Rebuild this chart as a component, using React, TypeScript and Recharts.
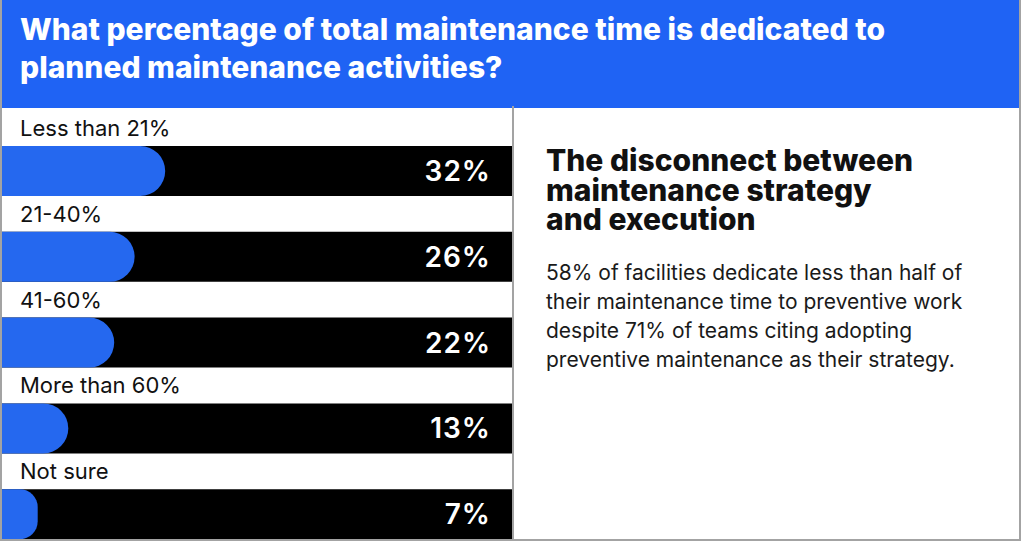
import React from 'react';
import { BarChart, Bar, XAxis, YAxis, LabelList } from 'recharts';

const categories = ['Less than 21%', '21-40%', '41-60%', 'More than 60%', 'Not sure'];
const shares = [32, 26, 22, 13, 7];
const valueDomain = [0, 100];

const titleLines = [
  'What percentage of total maintenance time is dedicated to',
  'planned maintenance activities?',
];
const headingLines = ['The disconnect between', 'maintenance strategy', 'and execution'];
const bodyLines = [
  '58% of facilities dedicate less than half of',
  'their maintenance time to preventive work',
  'despite 71% of teams citing adopting',
  'preventive maintenance as their strategy.',
];

const BLUE_HEADER = '#1f63f4';
const BLUE_BAR = '#2568ef';
const BORDER = '#a3a3a3';
const FONT = 'Inter, "Noto Sans", sans-serif';

const CHART_W = 510;
const CHART_H = 452;

const data = categories.map((name, i) => ({ name, value: shares[i] }));

// LabelList content gets the bar box either directly or inside viewBox
const box = (p: any) => {
  const vb = p.viewBox ?? p;
  return { x: Number(vb.x), y: Number(vb.y), height: Number(vb.height) };
};

const CategoryLabel = (p: any) => {
  const { y } = box(p);
  return (
    <text x={18} y={y - 10} fill="#111" fontSize={22} fontFamily={FONT}>
      {p.value}
    </text>
  );
};

const ValueLabel = (p: any) => {
  const { y, height } = box(p);
  return (
    <text
      x={CHART_W - 21}
      y={y + height / 2}
      textAnchor="end"
      dominantBaseline="central"
      fill="#fff"
      fontSize={28}
      fontWeight={600}
      letterSpacing={1}
      fontFamily={FONT}
    >
      {`${p.value}%`}
    </text>
  );
};

const App: React.FC = () => {
  return (
    <div
      style={{
        position: 'fixed',
        left: 0,
        top: 0,
        width: 1024,
        height: 545,
        background: '#fff',
        overflow: 'hidden',
        fontFamily: FONT,
      }}
    >
      <div
        style={{
          position: 'absolute',
          left: 0,
          top: 0,
          width: 1021,
          height: 541,
          boxSizing: 'border-box',
          border: `2px solid ${BORDER}`,
          borderTop: 'none',
          overflow: 'hidden',
        }}
      >
        {/* header band */}
        <div
          style={{
            position: 'absolute',
            left: -2,
            top: 0,
            width: 1021,
            height: 108,
            background: BLUE_HEADER,
          }}
        >
          <div
            style={{
              position: 'absolute',
              left: 20,
              top: 10,
              color: '#fff',
              fontSize: 30,
              fontWeight: 800,
              lineHeight: '38px',
              whiteSpace: 'nowrap',
            }}
          >
            {titleLines.map((t) => (
              <div key={t}>{t}</div>
            ))}
          </div>
        </div>

        {/* bars */}
        <div style={{ position: 'absolute', left: 0, top: 106 }}>
          <BarChart
            width={CHART_W}
            height={CHART_H}
            data={data}
            layout="vertical"
            margin={{ top: 22, right: 0, bottom: 1, left: 0 }}
            barCategoryGap={18}
          >
            <XAxis type="number" domain={valueDomain} hide />
            <YAxis type="category" dataKey="name" hide />
            <Bar
              dataKey="value"
              fill={BLUE_BAR}
              barSize={50}
              radius={[0, 25, 25, 0]}
              background={{ fill: '#000', radius: 0 }}
              isAnimationActive={false}
            >
              <LabelList dataKey="name" content={CategoryLabel} />
              <LabelList dataKey="value" content={ValueLabel} />
            </Bar>
          </BarChart>
        </div>

        {/* divider and side note */}
        <div
          style={{
            position: 'absolute',
            left: 510,
            top: 106,
            width: 2,
            height: 440,
            background: BORDER,
          }}
        />
        <div
          style={{
            position: 'absolute',
            left: 544,
            top: 146,
            color: '#111',
            fontSize: 30,
            fontWeight: 800,
            lineHeight: '29.5px',
            whiteSpace: 'nowrap',
          }}
        >
          {headingLines.map((t) => (
            <div key={t}>{t}</div>
          ))}
        </div>
        <div
          style={{
            position: 'absolute',
            left: 544,
            top: 258,
            color: '#1a1a1a',
            fontSize: 21,
            lineHeight: '29px',
            whiteSpace: 'nowrap',
          }}
        >
          {bodyLines.map((t) => (
            <div key={t}>{t}</div>
          ))}
        </div>
      </div>
    </div>
  );
};

export default App;
